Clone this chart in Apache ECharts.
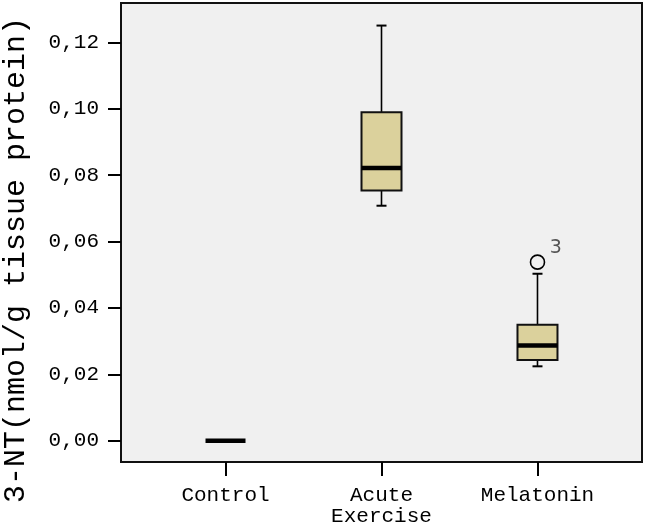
<!DOCTYPE html>
<html>
<head>
<meta charset="utf-8">
<script src="https://cdn.jsdelivr.net/npm/echarts@6/dist/echarts.min.js"></script>
<style>
html,body{margin:0;padding:0;background:#fff;}
#chart{width:646px;height:527px;}
</style>
</head>
<body>
<div id="chart"></div>
<script>
// ---- data ----
var categories = ['Control', 'Acute\nExercise', 'Melatonin'];
var positions = [1, 2, 3];
var whiskerLow = [0.0, 0.0708, 0.0224];
var q1 = [0.0, 0.0754, 0.0243];
var median = [0.0, 0.0822, 0.0287];
var q3 = [0.0, 0.0990, 0.0349];
var whiskerHigh = [0.0, 0.1251, 0.0503];
var outlierGroup = [3];
var outlierValue = [0.0538];
var outlierCase = ['3'];
var yTickValues = [0, 0.02, 0.04, 0.06, 0.08, 0.10, 0.12];
var yTitle = '3-NT(nmol/g tissue protein)';

var boxData = positions.map(function (p, i) {
  return [p, whiskerLow[i], q1[i], median[i], q3[i], whiskerHigh[i]];
});
var outlierData = outlierGroup.map(function (g, i) {
  return { value: [g, outlierValue[i]], name: outlierCase[i] };
});

var mono = '"Courier New", "Liberation Mono", monospace';
var chart = echarts.init(document.getElementById('chart'), null, { renderer: 'canvas' });

function renderBox(params, api) {
  var x = api.value(0);
  var pLow = api.coord([x, api.value(1)]);
  var pQ1 = api.coord([x, api.value(2)]);
  var pMed = api.coord([x, api.value(3)]);
  var pQ3 = api.coord([x, api.value(4)]);
  var pHigh = api.coord([x, api.value(5)]);
  var cx = pMed[0];
  var halfW = 20, capW = 5;
  var lineStyle = { stroke: '#000', lineWidth: 1.6, fill: null };
  var children = [];
  if (Math.abs(pHigh[1] - pQ3[1]) > 0.5) {
    children.push({ type: 'line', shape: { x1: cx, y1: pQ3[1], x2: cx, y2: pHigh[1] }, style: lineStyle });
    children.push({ type: 'line', shape: { x1: cx - capW, y1: pHigh[1], x2: cx + capW, y2: pHigh[1] }, style: { stroke: '#000', lineWidth: 2 } });
  }
  if (Math.abs(pLow[1] - pQ1[1]) > 0.5) {
    children.push({ type: 'line', shape: { x1: cx, y1: pQ1[1], x2: cx, y2: pLow[1] }, style: lineStyle });
    children.push({ type: 'line', shape: { x1: cx - capW, y1: pLow[1], x2: cx + capW, y2: pLow[1] }, style: { stroke: '#000', lineWidth: 2 } });
  }
  if (Math.abs(pQ1[1] - pQ3[1]) > 0.5) {
    children.push({
      type: 'rect',
      shape: { x: cx - halfW, y: pQ3[1], width: halfW * 2, height: pQ1[1] - pQ3[1] },
      style: { fill: '#dbd19c', stroke: '#111', lineWidth: 2 }
    });
  }
  children.push({
    type: 'line',
    shape: { x1: cx - halfW, y1: pMed[1], x2: cx + halfW, y2: pMed[1] },
    style: { stroke: '#000', lineWidth: 4.5 }
  });
  return { type: 'group', children: children };
}

var option = {
  animation: false,
  backgroundColor: '#fff',
  grid: {
    left: 121, right: 4, top: 3, bottom: 65,
    show: true, backgroundColor: '#f0f0f0', borderColor: '#111', borderWidth: 2
  },
  xAxis: {
    type: 'value', min: 0.33, max: 3.67,
    axisLine: { show: true, onZero: false, lineStyle: { color: '#111', width: 2 } },
    axisTick: { show: true, customValues: positions, length: 14, inside: false, lineStyle: { color: '#000', width: 2 } },
    axisLabel: {
      customValues: positions, margin: 23,
      formatter: function (v) { return categories[Math.round(v) - 1] || ''; },
      fontFamily: mono, fontSize: 21, color: '#000', lineHeight: 21
    },
    splitLine: { show: false }
  },
  yAxis: {
    type: 'value', min: -0.00644, max: 0.1319,
    axisLine: { show: true, onZero: false, lineStyle: { color: '#111', width: 2 } },
    axisTick: { show: true, customValues: yTickValues, length: 13, inside: false, lineStyle: { color: '#000', width: 2 } },
    axisLabel: {
      customValues: yTickValues, margin: 22,
      formatter: function (v) { return v.toFixed(2).replace('.', ','); },
      fontFamily: mono, fontSize: 21, color: '#000'
    },
    splitLine: { show: false }
  },
  graphic: [{
    type: 'text', x: 16, y: 260, rotation: Math.PI / 2,
    style: { text: yTitle, font: '30px ' + mono, fill: '#000', align: 'center', verticalAlign: 'middle' }
  }],
  series: [
    {
      type: 'custom', renderItem: renderBox, data: boxData,
      encode: { x: 0, y: [1, 2, 3, 4, 5] }, clip: false
    },
    {
      type: 'scatter', data: outlierData, symbol: 'circle', symbolSize: 14,
      itemStyle: { color: '#f0f0f0', borderColor: '#000', borderWidth: 1.6, opacity: 1 },
      label: {
        show: true, position: [20, -16],
        formatter: function (p) { return p.name; },
        fontFamily: '"DejaVu Sans", sans-serif', fontSize: 19, color: '#555'
      }
    }
  ]
};
chart.setOption(option);
</script>
</body>
</html>
